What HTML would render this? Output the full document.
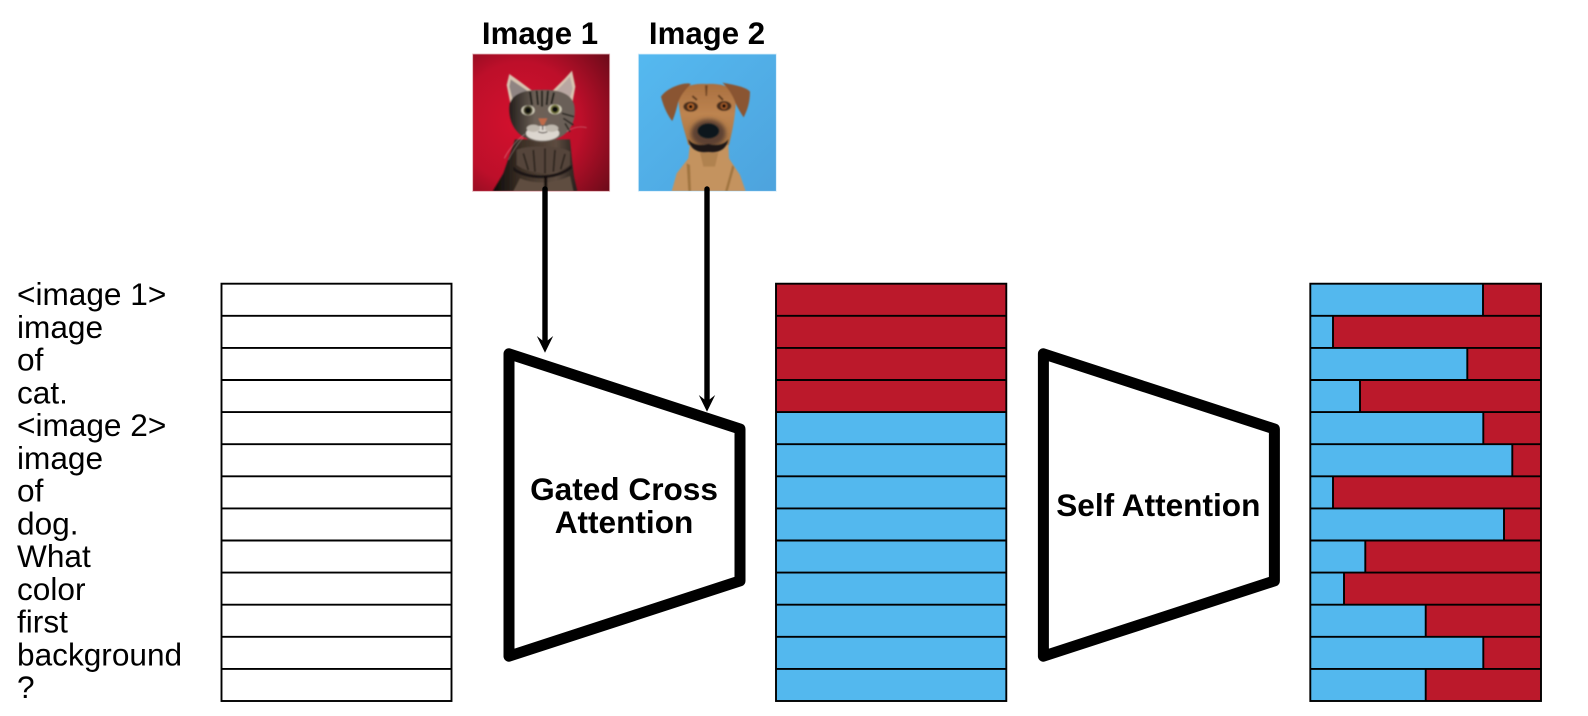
<!DOCTYPE html>
<html>
<head>
<meta charset="utf-8">
<title>Gated Cross Attention diagram</title>
<style>
html,body{margin:0;padding:0;background:#fff;width:1588px;height:716px;overflow:hidden}
svg{display:block}
.l{font-family:"Liberation Sans",sans-serif;font-size:31.6px;fill:#000}
.b{font-family:"Liberation Sans",sans-serif;font-weight:700;fill:#000}
</style>
</head>
<body>
<svg xmlns="http://www.w3.org/2000/svg" width="1588" height="716" viewBox="0 0 1588 716">
<defs>
<radialGradient id="rbg" cx="35%" cy="50%" r="80%">
<stop offset="0" stop-color="#d4112e"/><stop offset=".55" stop-color="#bd0f2a"/><stop offset="1" stop-color="#6f0b1a"/>
</radialGradient>
<linearGradient id="bbg" x1="0" y1="0" x2="1" y2="1">
<stop offset="0" stop-color="#55b9f0"/><stop offset="1" stop-color="#4da3dd"/>
</linearGradient>
<linearGradient id="cbody" x1="0" y1="0" x2="1" y2="0">
<stop offset="0" stop-color="#0c0a09"/><stop offset=".35" stop-color="#3d3026"/><stop offset=".75" stop-color="#5d4c40"/><stop offset="1" stop-color="#231d1a"/>
</linearGradient>
<linearGradient id="chead" x1="0" y1="0" x2="1" y2="0">
<stop offset="0" stop-color="#231e1b"/><stop offset=".4" stop-color="#6d6157"/><stop offset="1" stop-color="#6a6058"/>
</linearGradient>
<linearGradient id="dhead" x1="0" y1="0" x2="0" y2="1">
<stop offset="0" stop-color="#a96f3f"/><stop offset=".5" stop-color="#bd8450"/><stop offset="1" stop-color="#a87442"/>
</linearGradient>
<filter id="s1" x="-10%" y="-10%" width="120%" height="120%"><feGaussianBlur stdDeviation="2"/></filter>
<filter id="s2" x="-30%" y="-30%" width="160%" height="160%"><feGaussianBlur stdDeviation="7"/></filter>
<clipPath id="cc"><rect x="8" y="12" width="411" height="412"/></clipPath>
<clipPath id="dc"><rect x="10" y="12" width="414" height="412"/></clipPath>
</defs>

<!-- Titles -->
<text class="b" x="540" y="44" font-size="31.2" text-anchor="middle">Image 1</text>
<text class="b" x="707" y="44" font-size="31.2" text-anchor="middle">Image 2</text>

<!-- Cat picture -->
<g transform="translate(470,50) scale(.33333)">
<g clip-path="url(#cc)">
<rect x="8" y="12" width="411" height="412" fill="url(#rbg)"/>
<g filter="url(#s1)">
<path d="M68 424 L100 370 L118 318 L135 268 L300 268 L306 330 L312 380 L322 424 Z" fill="url(#cbody)"/>
<path d="M140 300 C170 285 270 285 300 305 L300 345 C260 380 180 375 140 345 Z" fill="#54453a"/>
<path d="M130 350 C170 385 260 385 305 345 L305 356 C260 395 170 392 130 362 Z" fill="#1d1714"/>
<path d="M150 385 C190 402 250 402 300 378 L310 424 L130 424 Z" fill="#5f4d40"/>
<path d="M160 310 L175 360 M190 300 L195 365 M225 295 L225 370 M255 300 L250 365 M285 312 L272 358" stroke="#2a211b" stroke-width="5" fill="none"/>
<path d="M222 378 L222 424 L232 424 L232 378 Z" fill="#15110f"/>
<path d="M118 72 L110 105 L122 165 L190 125 L150 95 Z" fill="#d8c4b0"/>
<path d="M122 88 L118 110 L128 150 L172 122 Z" fill="#8f8482"/>
<path d="M306 62 L316 110 L306 165 L245 125 L285 85 Z" fill="#d8c4b0"/>
<path d="M300 80 L308 115 L298 150 L258 124 Z" fill="#b9a7a2"/>
<path d="M118 170 C120 130 170 118 215 120 C265 118 312 130 314 175 C318 225 290 272 215 276 C145 272 115 225 118 170 Z" fill="url(#chead)"/>
<path d="M180 125 L186 165 M200 122 L204 165 M216 122 L216 170 M234 122 L230 165 M252 128 L244 162" stroke="#1f1a18" stroke-width="6" fill="none"/>
<path d="M280 205 L310 225 M276 190 L312 200 M285 220 L300 245" stroke="#2b2522" stroke-width="5" fill="none"/>
<ellipse cx="174" cy="181" rx="20" ry="15" fill="#cfc9b6"/>
<ellipse cx="255" cy="178" rx="20" ry="15" fill="#d6d0bc"/>
<circle cx="174" cy="181" r="14" fill="#4a4629"/>
<circle cx="255" cy="178" r="14" fill="#74763a"/>
<circle cx="174" cy="181" r="9" fill="#0b0a08"/>
<circle cx="255" cy="178" r="9" fill="#0b0a08"/>
<path d="M205 205 L232 205 L222 225 L214 225 Z" fill="#c06a4a"/>
<ellipse cx="218" cy="250" rx="50" ry="22" fill="#dcd6cf"/>
<ellipse cx="190" cy="235" rx="20" ry="11" fill="#bfb8ae"/>
<ellipse cx="245" cy="235" rx="20" ry="11" fill="#bfb8ae"/>
<path d="M218 226 L218 240 M205 245 Q218 252 232 245" stroke="#3a2f2a" stroke-width="3" fill="none"/>
</g>
<path d="M165 252 C140 270 115 300 103 325 M160 262 C140 285 125 310 115 330 M290 245 Q320 225 350 233" stroke="#e6dcd8" stroke-width="1.6" fill="none" opacity=".6" filter="url(#s1)"/>
</g>
<rect x="8" y="12" width="411" height="412" fill="none" stroke="#e3b3b8" stroke-width="2.5"/>
</g>

<!-- Dog picture -->
<g transform="translate(635,50) scale(.33333)">
<g clip-path="url(#dc)">
<rect x="10" y="12" width="414" height="412" fill="url(#bbg)"/>
<g filter="url(#s1)">
<path d="M110 424 L125 370 L160 325 L165 280 L280 280 L282 325 L315 375 L332 424 Z" fill="#c4935f"/>
<path d="M195 308 L250 308 L240 350 L205 350 Z" fill="#b0824f"/>
<path d="M155 340 L160 424 L168 424 L165 345 Z M292 345 L270 424 L278 424 L298 352 Z" fill="#a0743f"/>
<path d="M130 130 C140 108 180 100 215 102 C255 100 290 108 302 135 C305 190 290 250 282 285 L160 285 C150 245 128 190 130 130 Z" fill="url(#dhead)"/>
<path d="M160 100 C130 100 90 120 78 140 C85 170 100 200 112 213 C120 195 125 175 130 155 C140 130 155 115 168 102 Z" fill="#8a5533"/>
<path d="M262 98 C300 105 335 112 345 125 C345 160 335 185 326 202 C318 190 305 170 298 150 C290 130 275 110 262 98 Z" fill="#8a5533"/>
<path d="M210 106 L218 106 L216 138 L212 138 Z" fill="#6e4322"/>
<path d="M172 138 L186 150 M264 150 L250 136" stroke="#5e3a1e" stroke-width="6" fill="none"/>
<ellipse cx="167" cy="170" rx="22" ry="15" fill="#4a2e1a"/>
<ellipse cx="267" cy="168" rx="22" ry="15" fill="#4a2e1a"/>
<circle cx="167" cy="170" r="10" fill="#b8672a"/>
<circle cx="267" cy="168" r="10" fill="#a65c26"/>
<circle cx="167" cy="170" r="5.5" fill="#0a0807"/>
<circle cx="267" cy="168" r="5.5" fill="#0a0807"/>
</g>
<ellipse cx="220" cy="250" rx="52" ry="42" fill="#5c4030" filter="url(#s2)"/>
<g filter="url(#s1)">
<path d="M160 268 C165 295 185 310 220 306 C255 310 275 295 280 268 C268 285 242 288 220 282 C198 288 172 285 160 268 Z" fill="#1f1813"/>
<ellipse cx="220" cy="243" rx="32" ry="22" fill="#11141a"/>
</g>
</g>
<rect x="10" y="12" width="414" height="412" fill="none" stroke="#d8eefb" stroke-width="2.5"/>
</g>

<!-- Arrows -->
<g stroke="#000" stroke-width="5.4" stroke-linecap="round" fill="none">
<line x1="545" y1="189" x2="545" y2="344"/>
<line x1="707" y1="189" x2="707" y2="402"/>
</g>
<polygon points="545,352.7 536.8,336 545,342.5 553.2,336" fill="#000"/>
<polygon points="707,411.7 698.8,395 707,401.5 715.2,395" fill="#000"/>

<!-- Trapezoids -->
<polygon points="509,353.8 740,429 740,580.9 509,656.2" fill="#fff" stroke="#000" stroke-width="11" stroke-linejoin="round"/>
<polygon points="1043.4,353.8 1274.4,429 1274.4,580.9 1043.4,656.2" fill="#fff" stroke="#000" stroke-width="11" stroke-linejoin="round"/>
<text class="b" x="624" y="500" font-size="31.6" text-anchor="middle">Gated Cross</text>
<text class="b" x="624" y="533" font-size="31.6" text-anchor="middle">Attention</text>
<text class="b" x="1158.3" y="516" font-size="31.6" text-anchor="middle">Self Attention</text>

<!-- Token labels -->
<text class="l" x="17" y="305">&lt;image 1&gt;</text>
<text class="l" x="17" y="337.8">image</text>
<text class="l" x="17" y="370.5">of</text>
<text class="l" x="17" y="403.3">cat.</text>
<text class="l" x="17" y="436">&lt;image 2&gt;</text>
<text class="l" x="17" y="468.8">image</text>
<text class="l" x="17" y="501.5">of</text>
<text class="l" x="17" y="534.3">dog.</text>
<text class="l" x="17" y="567">What</text>
<text class="l" x="17" y="599.8">color</text>
<text class="l" x="17" y="632.5">first</text>
<text class="l" x="17" y="665.3">background</text>
<text class="l" x="17" y="698">?</text>

<!-- Column 2 fills -->
<rect x="776" y="283.7" width="230.3" height="128.4" fill="#bb192b"/>
<rect x="776" y="412.1" width="230.3" height="288.9" fill="#53b8ee"/>

<!-- Column 3 fills -->
<rect x="1310.3" y="283.7" width="230.7" height="417.3" fill="#bb192b"/>
<g fill="#53b8ee">
<rect x="1310.3" y="283.7" width="172.7" height="32.1"/>
<rect x="1310.3" y="315.8" width="22.7" height="32.1"/>
<rect x="1310.3" y="347.9" width="157" height="32.1"/>
<rect x="1310.3" y="380" width="49.7" height="32.1"/>
<rect x="1310.3" y="412.1" width="173" height="32.1"/>
<rect x="1310.3" y="444.2" width="202" height="32.1"/>
<rect x="1310.3" y="476.3" width="22.7" height="32.1"/>
<rect x="1310.3" y="508.4" width="193.7" height="32.1"/>
<rect x="1310.3" y="540.5" width="55" height="32.1"/>
<rect x="1310.3" y="572.6" width="33.7" height="32.1"/>
<rect x="1310.3" y="604.7" width="115.4" height="32.1"/>
<rect x="1310.3" y="636.8" width="173" height="32.1"/>
<rect x="1310.3" y="668.9" width="115.4" height="32.1"/>
</g>

<!-- Grid lines -->
<g fill="none" stroke="#000" stroke-width="1.9">
<rect x="221.5" y="283.7" width="230" height="417.3"/>
<path d="M221.5 315.8H451.5M221.5 347.9H451.5M221.5 380H451.5M221.5 412.1H451.5M221.5 444.2H451.5M221.5 476.3H451.5M221.5 508.4H451.5M221.5 540.5H451.5M221.5 572.6H451.5M221.5 604.7H451.5M221.5 636.8H451.5M221.5 668.9H451.5"/>
<rect x="776" y="283.7" width="230.3" height="417.3"/>
<path d="M776 315.8H1006.3M776 347.9H1006.3M776 380H1006.3M776 412.1H1006.3M776 444.2H1006.3M776 476.3H1006.3M776 508.4H1006.3M776 540.5H1006.3M776 572.6H1006.3M776 604.7H1006.3M776 636.8H1006.3M776 668.9H1006.3"/>
<rect x="1310.3" y="283.7" width="230.7" height="417.3"/>
<path d="M1310.3 315.8H1541M1310.3 347.9H1541M1310.3 380H1541M1310.3 412.1H1541M1310.3 444.2H1541M1310.3 476.3H1541M1310.3 508.4H1541M1310.3 540.5H1541M1310.3 572.6H1541M1310.3 604.7H1541M1310.3 636.8H1541M1310.3 668.9H1541"/>
<path d="M1483 283.7V315.8M1333 315.8V347.9M1467.3 347.9V380M1360 380V412.1M1483.3 412.1V444.2M1512.3 444.2V476.3M1333 476.3V508.4M1504 508.4V540.5M1365.3 540.5V572.6M1344 572.6V604.7M1425.7 604.7V636.8M1483.3 636.8V668.9M1425.7 668.9V701"/>
</g>
</svg>
</body>
</html>
